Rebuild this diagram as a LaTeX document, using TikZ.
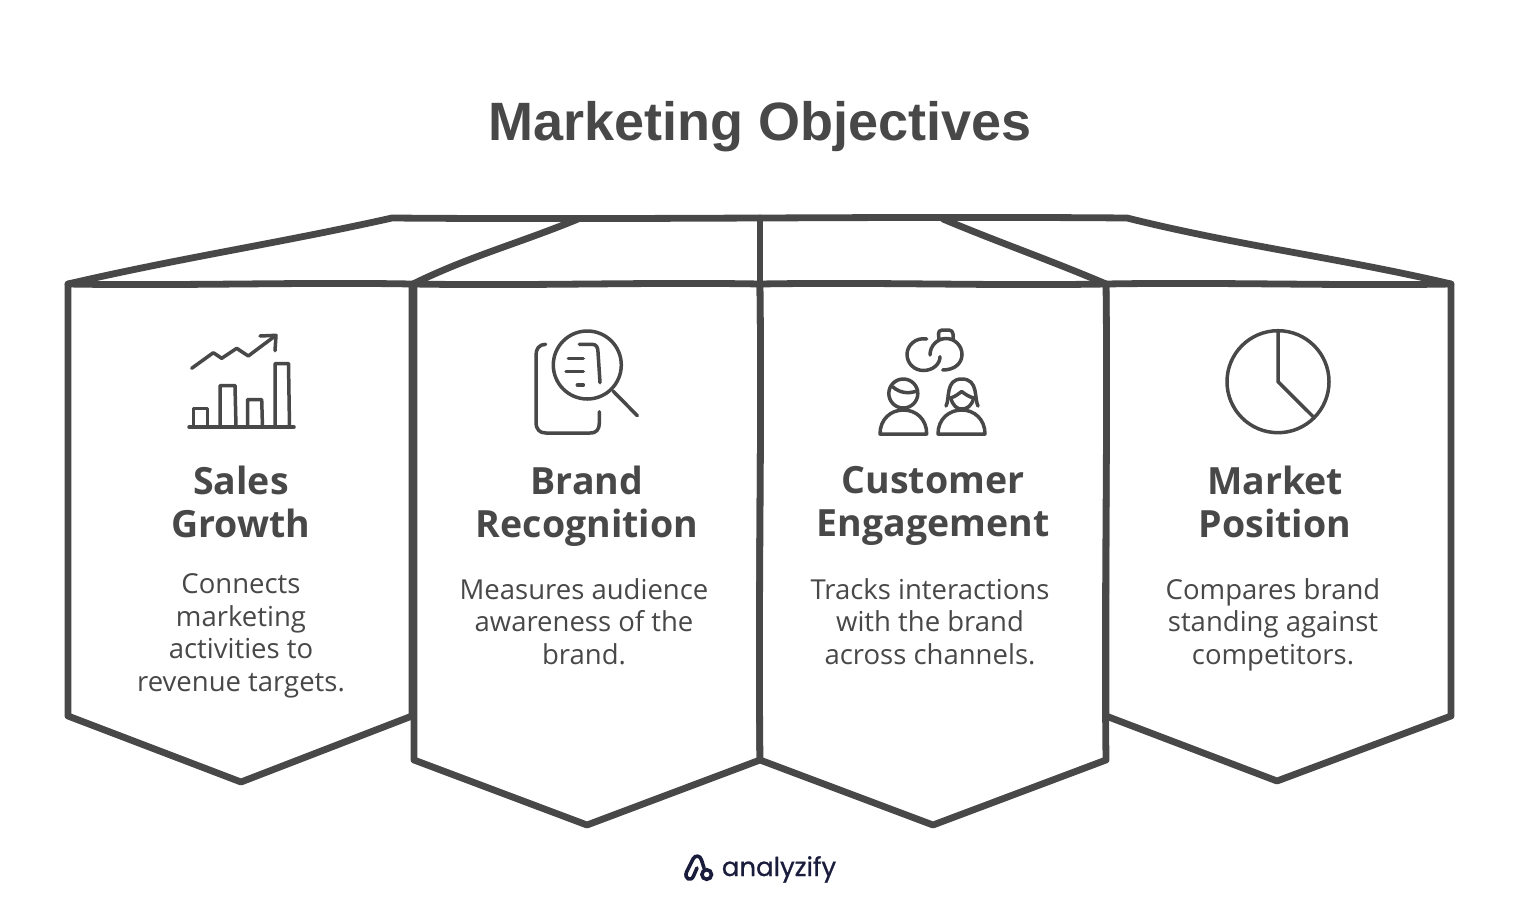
\documentclass[tikz,border=0pt]{standalone}
\usepackage{fontspec}
\setmainfont{Liberation Sans}
\newfontfamily\handfont{Open Sans}
\newfontfamily\headfont{Open Sans}[BoldFont={Open Sans Bold}]
\newfontfamily\logofont[FakeBold=0.8]{Poppins}
\definecolor{ink}{HTML}{484848}
\definecolor{navy}{HTML}{1A1C3C}
\tikzset{
  panel/.style={draw=ink,line width=6.8pt,line join=round,line cap=round,fill=white},
  roof/.style={draw=ink,line width=6.8pt,line join=round,line cap=round},
  ico/.style={draw=ink,line width=3.5pt,line join=round,line cap=round},
  titletext/.style={text=ink,font=\fontsize{54}{60}\selectfont\bfseries,inner sep=0pt},
  headtext/.style={text=ink,align=center,inner sep=0pt,font=\headfont\fontsize{37.5}{43}\selectfont\bfseries,execute at begin node=\strut,execute at end node=\strut},
  bodytext/.style={text=ink,align=center,inner sep=0pt,font=\handfont\fontsize{27.5}{32.5}\selectfont,execute at begin node=\strut,execute at end node=\strut},
  logotext/.style={text=navy,inner sep=0pt,font=\logofont\fontsize{26}{30}\selectfont}
}
\begin{document}
\begin{tikzpicture}[x=1pt,y=-1pt]
\useasboundingbox (0,0) rectangle (1520,916);
\fill[white] (0,0) rectangle (1520,916);
\node[titletext,anchor=base] (title) at (760,140) {Marketing Objectives};
% roof
\draw[roof] (68,284) .. controls (180,258) and (280,243) .. (392,218) .. controls (640,220) and (880,216) .. (1127,218) .. controls (1240,246) and (1340,258) .. (1451,284);
\draw[roof] (413,284) .. controls (470,256) and (520,243) .. (578,219);
\draw[roof] (1106,284) .. controls (1050,260) and (1000,243) .. (943,219);
\draw[roof] (760,218) -- (760,284);
% panels
\draw[panel] (68,284) .. controls (180,286) and (300,282) .. (412,284) -- (412,716) -- (241,782) -- (68,716) -- cycle;
\draw[panel] (1106,284) .. controls (1220,282) and (1340,286) .. (1451,284) -- (1451,716) -- (1277,781) -- (1106,716) -- cycle;
\draw[panel] (414,284) .. controls (530,286) and (650,282) .. (760,284) .. controls (762,440) and (758,600) .. (760,760) -- (587,825) -- (414,760) -- cycle;
\draw[panel] (760,284) .. controls (880,282) and (990,286) .. (1106,284) .. controls (1108,440) and (1104,600) .. (1106,760) -- (933,825) -- (760,760) .. controls (758,600) and (762,440) .. (760,284) -- cycle;
% chart icon
\draw[ico] (191.7,368.3) -- (213.3,352.7) -- (221.7,358.3) -- (236.7,348.3) -- (248.3,356) -- (275,336);
\draw[ico] (260,336) -- (276,335.3) -- (275,350.7);
\draw[ico] (189,427) -- (294,427);
\draw[ico] (193.5,427) -- (193.5,408.5) -- (207.3,408.5) -- (207.3,427);
\draw[ico] (220,427) -- (220,385.5) -- (235,385.5) -- (236,427);
\draw[ico] (247.5,427) -- (247.5,399.5) -- (261.7,399.5) -- (262.5,427);
\draw[ico] (275,427) -- (275,363.5) -- (288.5,363.5) -- (289.5,427);
% magnifier icon
\draw[ico] (587.3,365) circle[radius=34];
\draw[ico] (613,391) -- (637.3,415.7);
\draw[ico] (545.7,344.3) .. controls (539,344.3) and (536,349) .. (536,355) -- (536,422) .. controls (536,430) and (540,433) .. (546,433) -- (590,433) .. controls (597,433) and (599.3,429) .. (599.3,423) -- (599.3,411.7);
\draw[ico] (568.3,358.3) -- (583.3,358.3);
\draw[ico] (566,371.7) -- (583.3,371.7);
\draw[ico] (577.3,385) -- (583.3,385);
\draw[ico] (579.3,344.3) -- (592,344.3) .. controls (596,344.3) and (598,347) .. (598,352) -- (600,382.7);
% people icon
\draw[ico] (926.7,339) .. controls (915,337) and (907,346) .. (907,354.3) .. controls (907,364) and (915,370.5) .. (923.3,370.5) .. controls (933,370.5) and (940,364) .. (940,356.7);
\draw[ico] (930,355) .. controls (930,346) and (937,338.5) .. (946,338.5) .. controls (955,338.5) and (962,346) .. (962,354.3) .. controls (962,363) and (955,370) .. (942.7,370);
\draw[ico,rounded corners=4pt] (939,339) -- (938,330) -- (953,330) -- (953,339);
\draw[ico] (903.3,393.5) circle[radius=14.5];
\draw[ico] (893,387) .. controls (900,393) and (908,394) .. (917,391);
\draw[ico] (880,434) .. controls (880,419) and (891,410) .. (903.3,410) .. controls (916,410) and (926.7,419) .. (926.7,434) -- cycle;
\draw[ico] (946,406) .. controls (950,399) and (945,379) .. (961.7,379) .. controls (979,379) and (974,399) .. (978,406);
\draw[ico] (950,398) .. controls (955,397) and (958,394) .. (961.7,391.5) .. controls (965,394) and (969,397) .. (974,398);
\draw[ico] (950.7,398) .. controls (953,406) and (957,409) .. (961.7,409) .. controls (967,409) and (972,406) .. (973.5,398);
\draw[ico] (938,434) .. controls (938,419) and (949,410) .. (961.7,410) .. controls (974,410) and (985,419) .. (985,434) -- cycle;
% pie icon
\draw[ico] (1278,381.7) circle[radius=51];
\draw[ico] (1278,331) -- (1278,381.7) -- (1313.5,417);
% headings
\node[headtext] (h1) at (241,508) {Sales\\Growth};
\node[headtext] (h2) at (587,508) {Brand\\Recognition};
\node[headtext] (h3) at (933,508) {Customer\\Engagement};
\node[headtext] (h4) at (1275,508) {Market\\Position};
% bodies
\node[bodytext] (b1) at (241,637.5) {Connects\\marketing\\activities to\\revenue targets.};
\node[bodytext] (b2) at (584,626) {Measures audience\\awareness of the\\brand.};
\node[bodytext] (b3) at (930,626) {Tracks interactions\\with the brand\\across channels.};
\node[bodytext] (b4) at (1273,626) {Compares brand\\standing against\\competitors.};
% logo
\draw[draw=navy,line width=3.6pt,line cap=round,line join=round] (701.5,860) .. controls (700,855) and (695,855) .. (693,859) -- (686.5,872) .. controls (684,879) and (691,882) .. (693.5,876) -- (697,868);
\draw[draw=navy,line width=3.6pt,line cap=round] (701.5,860) -- (704,868);
\draw[draw=navy,line width=3.6pt] (706.7,874.5) circle[radius=4.8];
\node[logotext,anchor=base] (logo) at (779,876) {analyzify};
\end{tikzpicture}
\end{document}
